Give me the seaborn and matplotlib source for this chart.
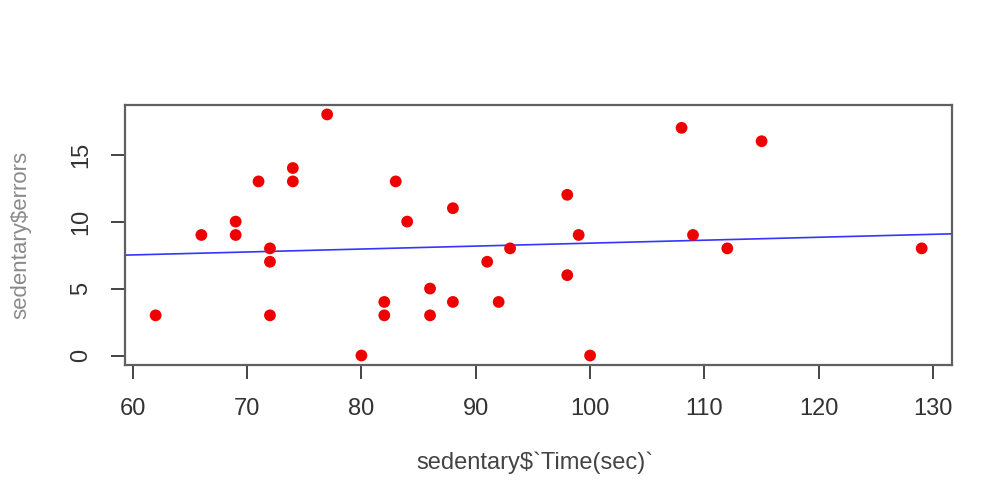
import matplotlib
matplotlib.use("Agg")
import matplotlib.pyplot as plt
import pandas as pd
import seaborn as sns

# sedentary data
time_sec = [62, 66, 69, 69, 71, 72, 72, 72, 74, 74, 77, 80, 82, 82, 83, 84,
            86, 86, 88, 88, 91, 92, 93, 98, 98, 99, 100, 108, 109, 112, 115, 129]
errors = [3, 9, 10, 9, 13, 8, 7, 3, 14, 13, 18, 0, 4, 3, 13, 10,
          5, 3, 11, 4, 7, 4, 8, 12, 6, 9, 0, 17, 9, 8, 16, 8]
x_ticks = [60, 70, 80, 90, 100, 110, 120, 130]
y_ticks = [0, 5, 10, 15]

# abline coefficients as drawn in the picture
line_intercept = 6.19
line_slope = 0.022

data = pd.DataFrame({"time": time_sec, "errors": errors})

sns.set_style("white")
plt.rcParams["font.family"] = ["Liberation Sans", "DejaVu Sans"]

fig = plt.figure(figsize=(9.92, 4.83), dpi=100)
ax = fig.add_axes([0.126, 0.244, 0.834, 0.539])

sns.scatterplot(x="time", y="errors", data=data, color="#ee0000", s=72,
                edgecolor="none", ax=ax, zorder=3)

# R-style 4% padding on both axes
xr = data.time.max() - data.time.min()
yr = data.errors.max() - data.errors.min()
ax.set_xlim(data.time.min() - 0.04 * xr, data.time.max() + 0.04 * xr)
ax.set_ylim(data.errors.min() - 0.04 * yr, data.errors.max() + 0.04 * yr)

ax.axline((0, line_intercept), slope=line_slope, color="#3535ff", linewidth=1.2, zorder=2)

ax.set_xticks(x_ticks)
ax.set_yticks(y_ticks)
ax.set_yticklabels([str(v) for v in y_ticks], rotation=90, va="center")
ax.tick_params(axis="both", direction="out", length=10, width=1.4, color="#444444",
               labelsize=17, labelcolor="#333333", pad=13.5, bottom=True, left=True)
for s in ax.spines.values():
    s.set_color("#606060")
    s.set_linewidth(1.6)

ax.set_xlabel("sedentary$`Time(sec)`", fontsize=17, color="#444444", va="center")
ax.set_ylabel("sedentary$errors", fontsize=16, color="#8a8a8a", va="center")
ax.xaxis.set_label_coords(0.496, -0.376)
ax.yaxis.set_label_coords(-0.126, 0.5)

plt.savefig("out.png", dpi=100)
